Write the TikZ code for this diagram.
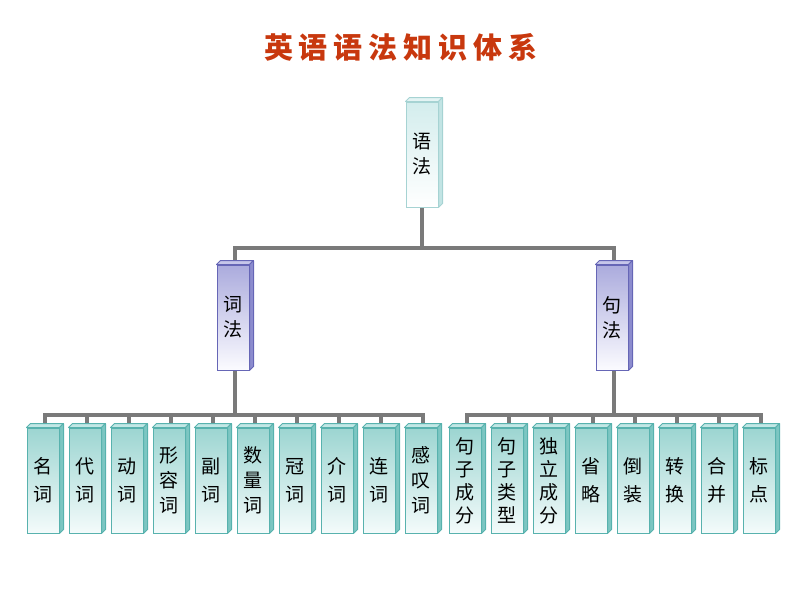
\documentclass[tikz,border=0pt]{standalone}
\usepackage{fontspec}
\newfontfamily\cjk{Noto Sans CJK SC}
\usetikzlibrary{backgrounds}
\definecolor{titlered}{HTML}{C8380E}
\definecolor{connc}{HTML}{7A7A7A}
\definecolor{tealedge}{HTML}{58B2AE}
\definecolor{tealtop}{HTML}{C2E7E5}
\definecolor{tealside}{HTML}{7CC6C2}
\definecolor{tealhi}{HTML}{9CD5D1}
\definecolor{teallo}{HTML}{F4FBFB}
\definecolor{puredge}{HTML}{6666B6}
\definecolor{purtop}{HTML}{C6C6EA}
\definecolor{purside}{HTML}{8C8CCE}
\definecolor{purhi}{HTML}{ABABDD}
\definecolor{purlo}{HTML}{FBFBFF}
\definecolor{litedge}{HTML}{A6D3D3}
\definecolor{littop}{HTML}{E4F4F4}
\definecolor{litside}{HTML}{C2E4E4}
\definecolor{lithi}{HTML}{D3EDED}
\definecolor{litlo}{HTML}{FFFFFF}
\tikzset{
  boxbase/.style={draw, line width=1pt, minimum width=32pt, inner sep=0pt, align=center, shading=axis},
  tealfront/.style={boxbase, draw=tealedge, top color=tealhi, bottom color=teallo},
  purfront/.style={boxbase, draw=puredge, top color=purhi, bottom color=purlo},
  litfront/.style={boxbase, draw=litedge, top color=lithi, bottom color=litlo},
  conn/.style={draw=connc, line width=4.5pt},
}
\newcommand{\cube}[7]{%
  \node[#5front, minimum height=#4, font=\cjk\fontsize{19}{#7}\selectfont] (#1) at (#2,#3) {#6};
  \draw[#5edge, line width=1pt, fill=#5top, line join=round] (#1.north west) -- ++(4,-4) -- ([shift={(4,-4)}]#1.north east) -- (#1.north east) -- cycle;
  \draw[#5edge, line width=1pt, fill=#5side, line join=round] (#1.north east) -- ++(4,-4) -- ([shift={(4,-4)}]#1.south east) -- (#1.south east) -- cycle;
}
\begin{document}
\begin{tikzpicture}[x=1pt,y=-1pt]
\useasboundingbox (0,0) rectangle (800,600);
\node[text=titlered, font=\cjk\bfseries\fontsize{29}{30}\selectfont] (title) at (401,47)
  {英\hspace{6pt}语\hspace{6pt}语\hspace{6pt}法\hspace{6pt}知\hspace{6pt}识\hspace{6pt}体\hspace{6pt}系};
\cube{yufa}{422}{154.5}{105pt}{lit}{语\\法}{25pt}
\cube{cifa}{233}{317.5}{105pt}{pur}{词\\法}{25pt}
\cube{jufa}{612}{317.5}{105pt}{pur}{句\\法}{25pt}
% left group
\cube{a1}{43}{480.5}{105pt}{teal}{名\\词}{28pt}
\cube{a2}{85}{480.5}{105pt}{teal}{代\\词}{28pt}
\cube{a3}{127}{480.5}{105pt}{teal}{动\\词}{28pt}
\cube{a4}{169}{480.5}{105pt}{teal}{形\\容\\词}{25pt}
\cube{a5}{211}{480.5}{105pt}{teal}{副\\词}{28pt}
\cube{a6}{253}{480.5}{105pt}{teal}{数\\量\\词}{25pt}
\cube{a7}{295}{480.5}{105pt}{teal}{冠\\词}{28pt}
\cube{a8}{337}{480.5}{105pt}{teal}{介\\词}{28pt}
\cube{a9}{379}{480.5}{105pt}{teal}{连\\词}{28pt}
\cube{a10}{421}{480.5}{105pt}{teal}{感\\叹\\词}{25pt}
% right group
\cube{b1}{465}{480.5}{105pt}{teal}{句\\子\\成\\分}{23pt}
\cube{b2}{507}{480.5}{105pt}{teal}{句\\子\\类\\型}{23pt}
\cube{b3}{549}{480.5}{105pt}{teal}{独\\立\\成\\分}{23pt}
\cube{b4}{591}{480.5}{105pt}{teal}{省\\略}{28pt}
\cube{b5}{633}{480.5}{105pt}{teal}{倒\\装}{28pt}
\cube{b6}{675}{480.5}{105pt}{teal}{转\\换}{28pt}
\cube{b7}{717}{480.5}{105pt}{teal}{合\\并}{28pt}
\cube{b8}{759}{480.5}{105pt}{teal}{标\\点}{28pt}
\begin{scope}[on background layer]
  \foreach \c in {cifa,jufa}
    \draw[conn] (yufa.south) -- (yufa.south |- 0,248) -| ([xshift=2pt]\c.north);
  \foreach \c in {a1,a2,a3,a4,a5,a6,a7,a8,a9,a10}
    \draw[conn] ([xshift=2pt]cifa.south) -- ([xshift=2pt]cifa.south |- 0,415) -| ([xshift=2pt]\c.north);
  \foreach \c in {b1,b2,b3,b4,b5,b6,b7,b8}
    \draw[conn] ([xshift=2pt]jufa.south) -- ([xshift=2pt]jufa.south |- 0,415) -| ([xshift=2pt]\c.north);
\end{scope}
\end{tikzpicture}
\end{document}
